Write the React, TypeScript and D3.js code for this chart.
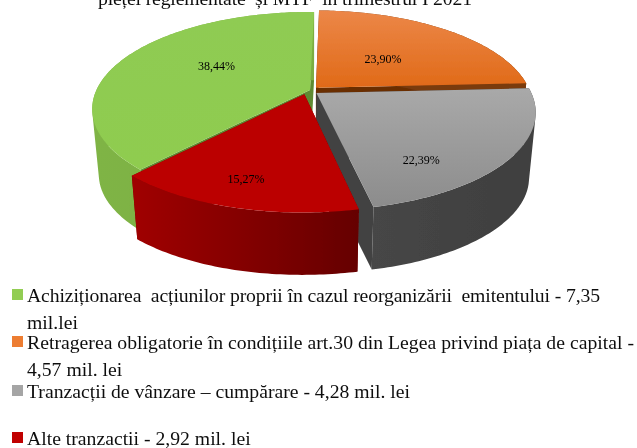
import React from "react";
import * as d3 from "d3";

const titleText = "pieței reglementate  și MTF  în trimestrul I 2021";
const shares = [38.44, 23.9, 22.39, 15.27];
const shareLabels = ["38,44%", "23,90%", "22,39%", "15,27%"];
const legendLines = [
  ["Achiziționarea  acțiunilor proprii în cazul reorganizării  emitentului - 7,35", "mil.lei"],
  ["Retragerea obligatorie în condițiile art.30 din Legea privind piața de capital -", "4,57 mil. lei"],
  ["Tranzacții de vânzare – cumpărare - 4,28 mil. lei"],
  ["Alte tranzactii - 2,92 mil. lei"],
];
const firstLineWidths = [573, 607, 0, 0];
const topFills = ["url(#gTopGreen)", "url(#gTopOrange)", "url(#gTopGray)", "#bb0000"];
const sideFills = ["url(#gSideGreen)", "#7a3a0c", "url(#gSideGray)", "url(#gSideRed)"];
const wallFills = ["#5f8a30", "#6b2f05", "#434343", "#7a0000"];
const legendFills = ["#92cd53", "#ed7d31", "#a5a5a5", "#c00000"];
const explodeUV = [[-0.014, 0.012], [0.014, 0.035], [0.016, -0.02], [-0.04, -0.035]];
const labelNudge = [[2, -6], [-2, 3], [14, 38], [-26, 35]];

const W = 637, H = 448;
const cx = 313, cy = 91, a = 214, b = 93.6, k = 0.196, depth = 66, shrink = 0.97;

const project = (u: number, v: number, bottom = false): [number, number] => {
  const w = 1 + k * v;
  const s = bottom ? shrink : 1;
  return [cx + (s * a * u) / w, cy + (bottom ? depth : 0) - (s * b * v) / w];
};
const line = d3.line<[number, number]>();

const arcs = d3
  .pie<number>()
  .sort(null)
  .startAngle(-(shares[0] / 100) * 2 * Math.PI + 0.02)
  .endAngle(2 * Math.PI - (shares[0] / 100) * 2 * Math.PI + 0.02)(shares);

export default function App() {
  const slices = arcs.map((d, i) => {
    const [ox, oy] = explodeUV[i];
    const n = Math.ceil((d.endAngle - d.startAngle) * 60);
    const angles = d3.range(n + 1).map((j) => d.startAngle + ((d.endAngle - d.startAngle) * j) / n);
    const pt = (t: number, r: number, bottom: boolean) =>
      project(ox + r * Math.sin(t), oy + r * Math.cos(t), bottom);
    const topArc = angles.map((t) => pt(t, 1, false));
    const botArc = angles.map((t) => pt(t, 1, true));
    const apexT = project(ox, oy, false);
    const apexB = project(ox, oy, true);
    const mid = (d.startAngle + d.endAngle) / 2;
    const lp = pt(mid, 0.5, false);
    const side = d3
      .range(n)
      .map((j) => {
        const quad: [number, number][] = [topArc[j], topArc[j + 1], botArc[j + 1], botArc[j]];
        if (d3.polygonArea(quad) < 0) quad.reverse();
        return line(quad)! + "Z";
      })
      .join("");
    return {
      top: line([apexT, ...topArc])! + "Z",
      side,
      wallA: line([apexT, topArc[0], botArc[0], apexB])! + "Z",
      wallB: line([apexT, topArc[n], botArc[n], apexB])! + "Z",
      label: [lp[0] + labelNudge[i][0], lp[1] + labelNudge[i][1]],
    };
  });
  const rowYs = [302, 349, 398, 445];
  const lineH = 26.5;
  return (
    <svg width={W} height={H} viewBox={`0 0 ${W} ${H}`} style={{ position: "absolute", left: 0, top: 0, background: "#fff" }}>
      <defs>
        <filter id="soft" x="-2%" y="-2%" width="104%" height="104%">
          <feGaussianBlur stdDeviation="0.45" />
        </filter>
        <linearGradient id="gTopGreen" x1="0" y1="0" x2="0" y2="1">
          <stop offset="0" stopColor="#8fcb52" />
          <stop offset="1" stopColor="#8fcc50" />
        </linearGradient>
        <linearGradient id="gTopOrange" x1="0" y1="0" x2="0" y2="1">
          <stop offset="0" stopColor="#ec8748" />
          <stop offset="1" stopColor="#e06a18" />
        </linearGradient>
        <linearGradient id="gTopGray" x1="0" y1="0" x2="0" y2="1">
          <stop offset="0" stopColor="#a9a9a9" />
          <stop offset="1" stopColor="#8c8c8c" />
        </linearGradient>
        <linearGradient id="gSideGreen" x1="0" y1="0" x2="1" y2="0">
          <stop offset="0" stopColor="#7fb445" />
          <stop offset="1" stopColor="#7bad3f" />
        </linearGradient>
        <linearGradient id="gSideGray" x1="0" y1="0" x2="1" y2="0">
          <stop offset="0" stopColor="#464646" />
          <stop offset="1" stopColor="#3f3f3f" />
        </linearGradient>
        <linearGradient id="gSideRed" x1="0" y1="0" x2="1" y2="0">
          <stop offset="0" stopColor="#a00000" />
          <stop offset="0.5" stopColor="#830000" />
          <stop offset="1" stopColor="#650000" />
        </linearGradient>
      </defs>
      <g filter="url(#soft)" fontFamily="'Liberation Serif', serif" fill="#111">
        <text x={98} y={5} textLength={374} fontSize={19.7} style={{ whiteSpace: "pre" }}>{titleText}</text>
        {[1, 0, 2, 3].map((i) => (
          <g key={i}>
            <path d={slices[i].wallA} fill={wallFills[i]} />
            <path d={slices[i].wallB} fill={wallFills[i]} />
            <path d={slices[i].side} fill={sideFills[i]} />
            <path d={slices[i].top} fill={topFills[i]} />
          </g>
        ))}
        {slices.map((s, i) => (
          <text key={i} x={s.label[0]} y={s.label[1]} textAnchor="middle" dominantBaseline="middle" fontSize={12} fill="#000">
            {shareLabels[i]}
          </text>
        ))}
        {legendLines.map((lines, i) => (
          <g key={i}>
            <rect x={12} y={rowYs[i] - 13} width={11} height={11} fill={legendFills[i]} />
            {lines.map((t, j) => (
              <text
                key={j}
                x={27}
                y={rowYs[i] + j * lineH}
                fontSize={19.7}
                style={{ whiteSpace: "pre" }}
                {...(j === 0 && firstLineWidths[i] ? { textLength: firstLineWidths[i] } : {})}
              >
                {t}
              </text>
            ))}
          </g>
        ))}
      </g>
    </svg>
  );
}
